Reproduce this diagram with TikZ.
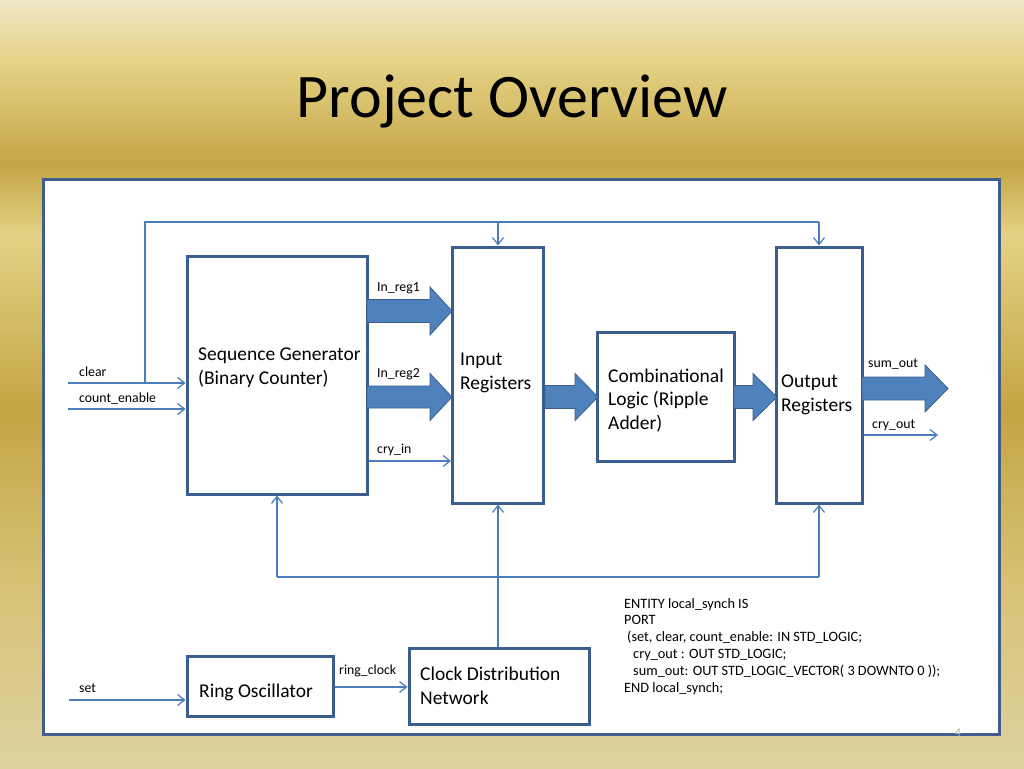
\documentclass[tikz,border=0pt]{standalone}
\usepackage{fontspec}
\setmainfont{Carlito}
\usetikzlibrary{arrows.meta,calc}
\definecolor{boxblue}{HTML}{3A5F8E}
\definecolor{framblue}{HTML}{3F5E8B}
\definecolor{sigblue}{HTML}{4A7EBB}
\definecolor{fillblue}{HTML}{4F81BD}
\definecolor{gA}{HTML}{EEE6C6}
\definecolor{gB}{HTML}{E5D388}
\definecolor{gC}{HTML}{C5A546}
\definecolor{gD}{HTML}{E3D285}
\definecolor{gE}{HTML}{C4A544}
\definecolor{gF}{HTML}{D8C47A}
\definecolor{gG}{HTML}{DDD29F}
\tikzset{
  boxnode/.style={draw=boxblue, line width=3pt, fill=white, inner sep=0pt, rectangle},
  boxtext/.style={font=\fontsize{19.5}{23.5}\selectfont, align=left, inner sep=0pt, anchor=base west},
  lbl/.style={font=\fontsize{13.8}{16}\selectfont, inner sep=0pt, anchor=base west},
  codetxt/.style={font=\fontsize{14.3}{16.8}\selectfont, align=left, inner sep=0pt, anchor=base west},
  sig/.style={draw=sigblue, line width=1.3pt},
  sigarr/.style={sig, -{Straight Barb[length=7pt,width=11pt,line width=1.2pt]}},
  barrow/.style={fill=fillblue, draw=boxblue, line width=0.8pt, line join=miter},
}
\newcommand{\blockarr}[6]{% x1, xh, x2, yc, shaft half, head half
  \path[barrow] (#1,#4-#5) -- (#2,#4-#5) -- (#2,#4-#6) -- (#3,#4) -- (#2,#4+#6) -- (#2,#4+#5) -- (#1,#4+#5) -- cycle;}
\begin{document}
\begin{tikzpicture}[x=1pt,y=-1pt]
\useasboundingbox (0,0) rectangle (1024,768);
% background gradient
\shade[top color=gA, bottom color=gB] (0,0) rectangle (1024,60.5);
\shade[top color=gB, bottom color=gC] (0,60) rectangle (1024,165.5);
\shade[top color=gC, bottom color=gD] (0,165) rectangle (1024,235.5);
\shade[top color=gD, bottom color=gE] (0,235) rectangle (1024,410.5);
\shade[top color=gE, bottom color=gF] (0,410) rectangle (1024,600.5);
\shade[top color=gF, bottom color=gG] (0,600) rectangle (1024,768);
% title
\node[font=\fontsize{62}{70}\selectfont, inner sep=0pt, anchor=base] (title) at (512,117) {Project Overview};
% frame
\node[draw=framblue, line width=3pt, fill=white, inner sep=0pt, minimum width=956pt, minimum height=555pt] (frame) at (521,456.5) {};
\node[font=\fontsize{12}{14}\selectfont, text=gray!60, inner sep=0pt] (pnum) at (958,733) {4};
% boxes
\node[boxnode, minimum width=180pt, minimum height=238pt] (seq) at (277,375) {};
\node[boxnode, minimum width=91pt, minimum height=256pt] (inreg) at (498,375) {};
\node[boxnode, minimum width=137pt, minimum height=129pt] (comb) at (665.5,396.5) {};
\node[boxnode, minimum width=86pt, minimum height=256pt] (outreg) at (819,375) {};
\node[boxnode, minimum width=146pt, minimum height=60pt] (ring) at (260,686.5) {};
\node[boxnode, minimum width=180pt, minimum height=76pt] (cdn) at (499,686) {};
% box texts (anchor = baseline of last line)
\node[boxtext] (seqt) at (198,384) {Sequence Generator\\(Binary Counter)};
\node[boxtext] (inregt) at (460,389) {Input\\Registers};
\node[boxtext] (combt) at (608,429) {Combinational\\Logic (Ripple\\Adder)};
\node[boxtext] (outregt) at (781,411) {Output\\Registers};
\node[boxtext] (ringt) at (199,697) {Ring Oscillator};
\node[boxtext] (cdnt) at (420,704) {Clock Distribution\\Network};
% coordinates
\coordinate (clr) at (68,383);
\coordinate (cen) at (68,409);
\coordinate (tap) at (145,383);
\coordinate (topy) at (0,222);
\coordinate (cryin) at (0,461);
\coordinate (cryoutend) at (938,435);
\coordinate (setst) at (69,700);
\coordinate (rclk) at (0,687);
\coordinate (bus) at (0,577);
% input signals
\draw[sigarr] (clr) -- (clr -| seq.west);
\draw[sigarr] (cen) -- (cen -| seq.west);
\draw[sig] (tap) |- (outreg.north |- topy);
\draw[sigarr] (outreg.north |- topy) -- (outreg.north);
\draw[sigarr] (inreg.north |- topy) -- (inreg.north);
\draw[sigarr] (seq.east |- cryin) -- (inreg.west |- cryin);
\draw[sigarr] (outreg.east |- cryoutend) -- (cryoutend);
\draw[sigarr] (setst) -- (setst -| ring.west);
\draw[sigarr] (ring.east |- rclk) -- (cdn.west |- rclk);
% clock distribution
\draw[sig] (inreg.south |- cdn.north) -- (inreg.south |- bus);
\draw[sig] (seq.south |- bus) -- (outreg.south |- bus);
\draw[sigarr] (seq.south |- bus) -- (seq.south);
\draw[sigarr] (inreg.south |- bus) -- (inreg.south);
\draw[sigarr] (outreg.south |- bus) -- (outreg.south);
% block arrows
\blockarr{367}{430}{452}{311}{11.5}{24}
\blockarr{367}{430}{452}{397}{11}{23.5}
\blockarr{545}{575}{598}{397}{11.5}{23.5}
\blockarr{734}{753}{777}{397}{11.5}{23.5}
\blockarr{862}{925}{948}{388.5}{11.5}{23.5}
% labels
\node[lbl] (lclear) at (79,376) {clear};
\node[lbl] (lcen) at (79,402) {count\_enable};
\node[lbl] (lr1) at (377,291) {In\_reg1};
\node[lbl] (lr2) at (377,377) {In\_reg2};
\node[lbl] (lcin) at (377,453) {cry\_in};
\node[lbl] (lsum) at (868,367) {sum\_out};
\node[lbl] (lcout) at (872,428) {cry\_out};
\node[lbl] (lrc) at (339,674) {ring\_clock};
\node[lbl] (lset) at (79,692) {set};
% code (anchor = baseline of last line)
\node[codetxt] (code) at (624,692) {ENTITY local\_synch IS\\PORT\\\hspace*{3pt}(set, clear, count\_enable: IN STD\_LOGIC;\\\hspace*{9pt}cry\_out : OUT STD\_LOGIC;\\\hspace*{9pt}sum\_out: OUT STD\_LOGIC\_VECTOR( 3 DOWNTO 0 ));\\END local\_synch;};
\end{tikzpicture}
\end{document}
